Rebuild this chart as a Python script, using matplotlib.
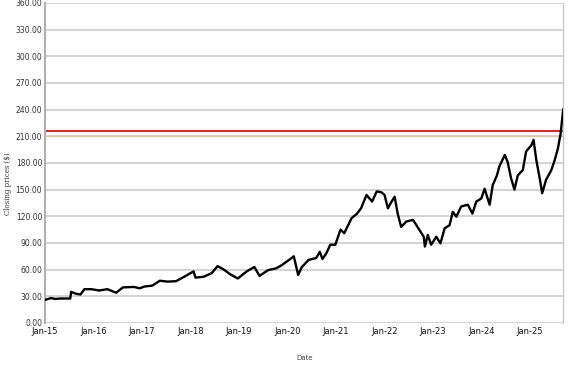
import numpy as np
import pandas as pd
import matplotlib
matplotlib.use("Agg")
import matplotlib.pyplot as plt
import matplotlib.dates as mdates
import matplotlib.ticker as mticker

# closing prices
dates = ["2015-01-02", "2015-02-15", "2015-03-20", "2015-04-25", "2015-06-01", "2015-07-10",
         "2015-07-17", "2015-08-20", "2015-09-25", "2015-10-25", "2015-12-15", "2016-02-15",
         "2016-04-15", "2016-06-20", "2016-08-10", "2016-11-01", "2016-12-15", "2017-01-20",
         "2017-03-20", "2017-05-15", "2017-07-15", "2017-09-15", "2017-11-15", "2018-01-25",
         "2018-02-08", "2018-04-10", "2018-06-10", "2018-07-25", "2018-09-10", "2018-10-25",
         "2018-12-24", "2019-03-01", "2019-04-28", "2019-06-05", "2019-08-10", "2019-10-10",
         "2019-11-20", "2020-01-15", "2020-02-19", "2020-03-23", "2020-04-20", "2020-06-10",
         "2020-08-05", "2020-09-02", "2020-09-22", "2020-10-20", "2020-11-20", "2020-12-28",
         "2021-02-05", "2021-03-05", "2021-04-30", "2021-06-10", "2021-07-10", "2021-08-20",
         "2021-10-01", "2021-11-05", "2021-12-10", "2022-01-03", "2022-01-28", "2022-02-25",
         "2022-03-20", "2022-04-12", "2022-05-08", "2022-06-15", "2022-08-05", "2022-09-15",
         "2022-10-25", "2022-11-03", "2022-11-25", "2022-12-20", "2023-01-28", "2023-02-28",
         "2023-04-01", "2023-05-08", "2023-06-01", "2023-06-28", "2023-08-03", "2023-09-23",
         "2023-10-27", "2023-11-25", "2024-01-02", "2024-01-27", "2024-03-05", "2024-03-28",
         "2024-04-29", "2024-05-17", "2024-06-27", "2024-07-19", "2024-08-13", "2024-09-08",
         "2024-10-03", "2024-11-10", "2024-12-05", "2025-01-14", "2025-01-30", "2025-02-20",
         "2025-03-17", "2025-04-05", "2025-05-04", "2025-06-13", "2025-07-08", "2025-08-01",
         "2025-08-22", "2025-09-10"]
close = [26, 28, 27, 27.5, 27.5, 27.5,
         35, 33, 32, 38, 38, 36.5,
         38, 34, 40, 40.5, 39, 41,
         42, 47.5, 46.5, 47, 52, 58,
         51, 52, 56, 64, 60, 55,
         50, 58, 63, 53, 59.5, 61.5,
         65, 71, 75, 54, 63, 71,
         73, 80, 72, 78, 88, 88,
         105, 101, 118, 123, 129, 144,
         136.5, 148, 147, 144, 129, 136.5,
         142, 123, 108, 114, 116, 106.5,
         97, 86, 99, 88, 97, 89.5,
         106.5, 110, 125, 119.5, 131, 133,
         123, 136.5, 140, 151, 133, 155,
         166, 176, 189, 181, 163, 150,
         166, 172, 193, 200, 206, 183,
         163, 146, 161, 172, 183, 196,
         213, 240]
ref_level = 216
y_ticks = np.arange(0, 361, 30)

df = pd.DataFrame({"Date": pd.to_datetime(dates), "Close": close})

fig = plt.figure(figsize=(5.77, 3.67), dpi=100)
ax = fig.add_axes([0.078, 0.12, 0.898, 0.872])

ax.set_ylim(0, 360)
ax.set_yticks(y_ticks)
ax.yaxis.set_major_formatter(mticker.FormatStrFormatter("%.2f"))
ax.set_xlim(pd.Timestamp("2015-01-01"), df["Date"].iloc[-1])
ax.xaxis.set_major_locator(mdates.YearLocator())
ax.xaxis.set_major_formatter(mdates.DateFormatter("Jan-%y"))

for v in y_ticks:
    ax.axhline(v, color="#c8c8c8", lw=1.1, zorder=1)
ax.axhline(210, color="#dcc2a8", lw=1.0, zorder=1)
ax.axhline(ref_level, color="#e02828", lw=1.5, zorder=2)

ax.plot(df["Date"], df["Close"], color="black", lw=1.7, zorder=3)

for s in ["top", "bottom"]:
    ax.spines[s].set_visible(False)
ax.spines["left"].set_color("#b0b0b0")
ax.spines["left"].set_linewidth(1.5)
ax.spines["right"].set_color("#c8c8c8")
ax.spines["right"].set_linewidth(1.0)

ax.tick_params(axis="y", length=0, pad=2, labelsize=5.5, labelcolor="#333333")
ax.tick_params(axis="x", length=0, pad=3.2, labelsize=6, labelcolor="#111111")

fig.text(0.013, 0.5, "Closing prices ($)", rotation=90, va="center", ha="center",
         fontsize=5, family="DejaVu Serif", color="#333333")
fig.text(0.528, 0.025, "Date", ha="center", va="center", fontsize=5, color="#444444")

fig.savefig("out.png", dpi=100)
